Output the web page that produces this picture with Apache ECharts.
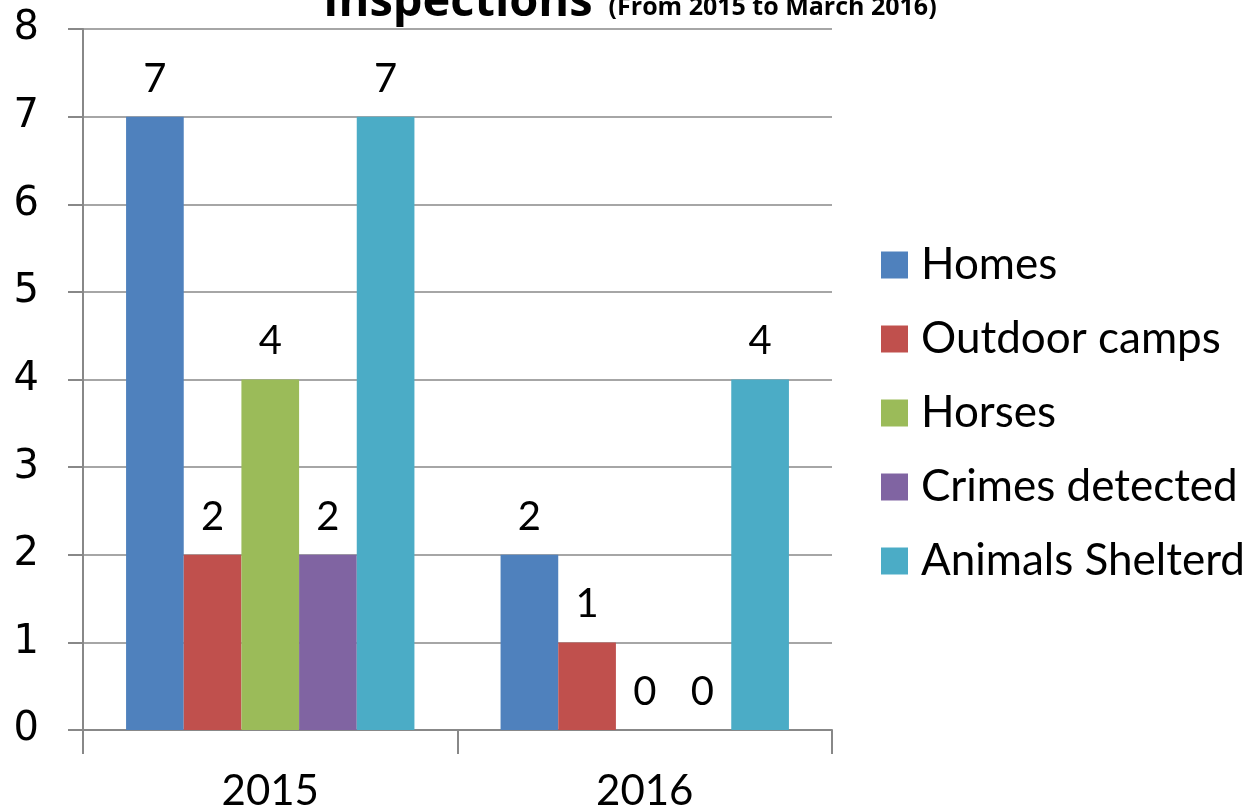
<!DOCTYPE html>
<html>
<head>
<meta charset="utf-8">
<script src="https://cdn.jsdelivr.net/npm/echarts@6/dist/echarts.min.js"></script>
<style>
    html, body { margin: 0; padding: 0; background: #fff; }
    #chart { width: 1254px; height: 812px; }
</style>
</head>
<body>
<div id="chart"></div>
<script>
const years = ['2015', '2016'];
const homes = [7, 2];
const outdoorCamps = [2, 1];
const horses = [4, 0];
const crimesDetected = [2, 0];
const animalsShelterd = [7, 4];
const yTicks = [0, 1, 2, 3, 4, 5, 6, 7, 8];

const seriesDefs = [
    { name: 'Homes', data: homes, color: '#4F81BD' },
    { name: 'Outdoor camps', data: outdoorCamps, color: '#C0504D' },
    { name: 'Horses', data: horses, color: '#9BBB59' },
    { name: 'Crimes detected', data: crimesDetected, color: '#8064A2' },
    { name: 'Animals Shelterd', data: animalsShelterd, color: '#4BACC6' }
];

const myChart = echarts.init(document.getElementById('chart'));
const gridColor = '#888888';

const option = {
    animation: false,
    title: {
        text: '{a|Inspections}{b|(From 2015 to March 2016)}',
        left: 318,
        top: -29,
        textStyle: {
            rich: {
                a: { fontFamily: 'Open Sans', fontWeight: 'bold', fontSize: 47, color: '#000', lineHeight: 50, verticalAlign: 'bottom' },
                b: { fontFamily: 'Open Sans', fontWeight: 'bold', fontSize: 25, color: '#000', lineHeight: 30, verticalAlign: 'bottom', padding: [0, 0, 6, 16] }
            }
        }
    },
    legend: {
        orient: 'vertical',
        left: 876,
        top: 238,
        itemWidth: 27,
        itemHeight: 27,
        itemGap: 30,
        icon: 'rect',
        textStyle: { fontFamily: 'Lato', fontSize: 44, color: '#000', padding: [0, 0, 0, 8] },
        data: seriesDefs.map(s => s.name)
    },
    grid: { left: 83, right: 422, top: 29, bottom: 79 },
    xAxis: {
        type: 'category',
        data: years,
        axisLine: { lineStyle: { color: gridColor, width: 2 } },
        axisTick: { show: true, length: 24, lineStyle: { color: gridColor, width: 2 } },
        axisLabel: { fontFamily: 'Lato', fontSize: 42, color: '#000', margin: 40 }
    },
    yAxis: {
        type: 'value',
        min: yTicks[0],
        max: yTicks[yTicks.length - 1],
        interval: 1,
        axisLine: { show: true, lineStyle: { color: gridColor, width: 2 } },
        axisTick: { show: true, length: 15, lineStyle: { color: gridColor, width: 2 } },
        splitLine: { lineStyle: { color: gridColor, width: 1.5 } },
        axisLabel: { fontFamily: 'DejaVu Sans', fontSize: 40, color: '#000', margin: 44 }
    },
    series: seriesDefs.map(s => ({
        name: s.name,
        type: 'bar',
        data: s.data,
        itemStyle: { color: s.color },
        barGap: '0%',
        barCategoryGap: '23%',
        label: {
            show: true,
            position: 'top',
            distance: 18,
            fontFamily: 'Lato',
            fontSize: 40,
            color: '#000'
        }
    }))
};

myChart.setOption(option);
window.addEventListener('resize', () => {
    myChart.resize();
});
</script>
</body>
</html>
